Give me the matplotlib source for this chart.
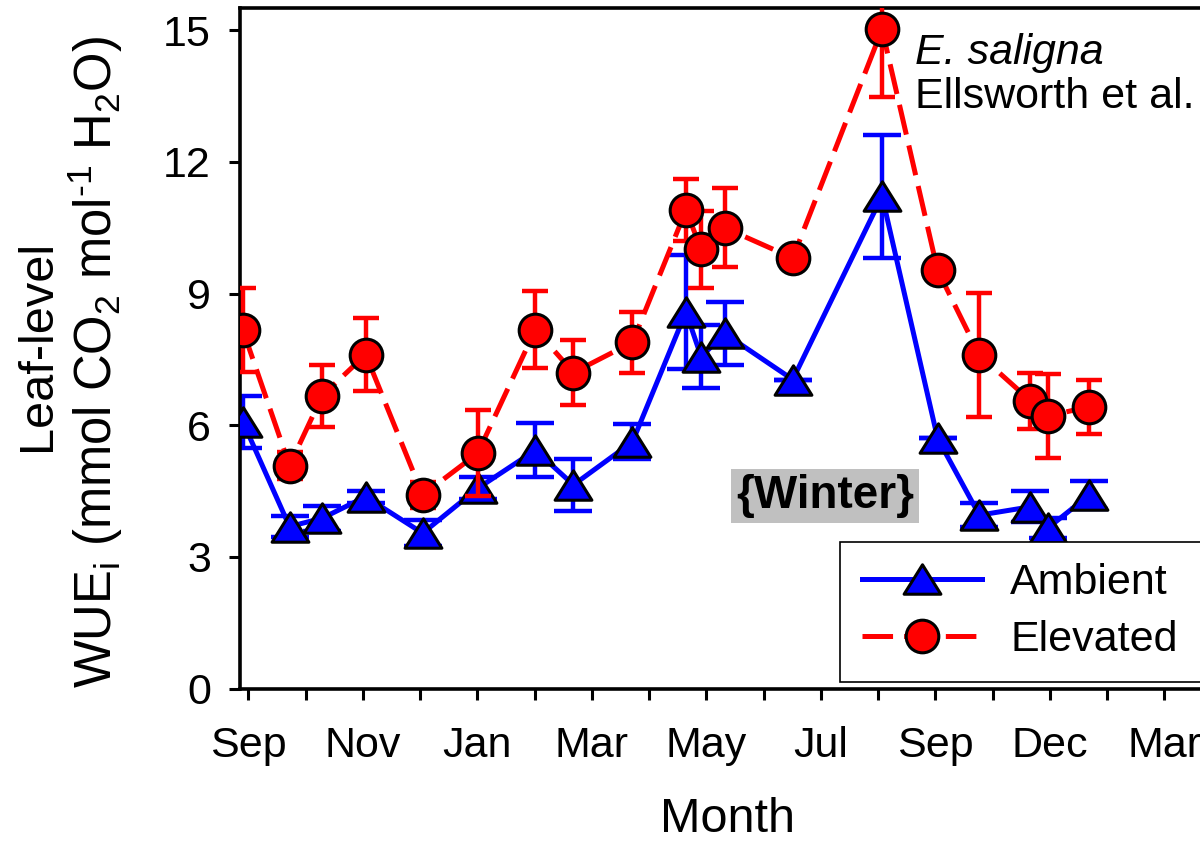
import matplotlib
matplotlib.use("Agg")
import matplotlib.pyplot as plt
from matplotlib.path import Path
import numpy as np

plt.rcParams['font.family'] = ['Liberation Sans', 'DejaVu Sans']
plt.rcParams['mathtext.fontset'] = 'custom'
plt.rcParams['mathtext.rm'] = 'Liberation Sans'
plt.rcParams['mathtext.it'] = 'Liberation Sans:italic'
plt.rcParams['lines.scale_dashes'] = False

# ---- data (x in month-tick units, Sep = 0) ----
month_pos = [-0.096, 0.72, 1.29, 2.05, 3.046, 4.007, 5.015, 5.68, 6.71, 7.645,
             7.91, 8.32, 9.51, 11.07, 12.04, 12.77, 13.66, 13.96, 14.69]
ambient = [6.08, 3.69, 3.88, 4.37, 3.54, 4.56, 5.43, 4.64, 5.62, 8.58,
           7.56, 8.09, 7.04, 11.22, 5.70, 3.95, 4.14, 3.65, 4.41]
ambient_se = [0.59, 0.24, 0.29, 0.14, 0.29, 0.25, 0.62, 0.60, 0.40, 1.30,
              0.72, 0.71, 0.0, 1.40, 0.0, 0.28, 0.35, 0.23, 0.31]
elevated = [8.17, 5.08, 6.67, 7.61, 4.41, 5.36, 8.18, 7.20, 7.89, 10.90,
            10.01, 10.50, 9.81, 15.02, 9.53, 7.60, 6.56, 6.21, 6.42]
elevated_se = [0.96, 0.30, 0.70, 0.84, 0.30, 0.98, 0.87, 0.75, 0.70, 0.70,
               0.88, 0.90, 0.0, 1.54, 0.0, 1.41, 0.64, 0.95, 0.62]
tick_pos = list(range(17))
tick_labels = ['Sep', '', 'Nov', '', 'Jan', '', 'Mar', '', 'May', '', 'Jul', '',
               'Sep', '', 'Dec', '', 'Mar']
y_ticks = [0, 3, 6, 9, 12, 15]

W, H = 1200, 841
fig = plt.figure(figsize=(W / 100, H / 100), dpi=100)
ax_left, ax_bottom = 240 / W, 1 - 688.5 / H
ax_height = (688.5 - 8.3) / H
xlim = (-0.145, 17.0)
ax_width = (xlim[1] - xlim[0]) * 57.25 / W
ax = fig.add_axes([ax_left, ax_bottom, ax_width, ax_height])

tri = Path([(0, 0.8), (-1, -0.8), (1, -0.8), (0, 0.8)],
           [Path.MOVETO, Path.LINETO, Path.LINETO, Path.CLOSEPOLY])

blue = '#0000FF'
red = '#FF0000'

# Ambient
ax.errorbar(month_pos, ambient, yerr=ambient_se, fmt='none', ecolor=blue,
            elinewidth=3.2, capsize=14, capthick=3.2, zorder=2)
ax.plot(month_pos, ambient, color=blue, lw=3.6, marker=tri, ms=26.5,
        mfc=blue, mec='black', mew=2.2, label='Ambient', zorder=3)
# Elevated
ax.errorbar(month_pos, elevated, yerr=elevated_se, fmt='none', ecolor=red,
            elinewidth=3.2, capsize=9.5, capthick=3.2, zorder=4)
ax.plot(month_pos, elevated, color=red, lw=3.6, dashes=(22, 8), marker='o',
        ms=23.5, mfc=red, mec='black', mew=2.2, label='Elevated', zorder=5)

ax.set_xlim(*xlim)
ax.set_ylim(0, 15.5)
ax.set_xticks(tick_pos)
ax.set_xticklabels(tick_labels)
ax.set_yticks(y_ticks)
ax.tick_params(axis='both', direction='out', length=8, width=2.2,
               labelsize=31, colors='black')
ax.tick_params(axis='x', pad=19)
ax.tick_params(axis='y', pad=13)
for s in ax.spines.values():
    s.set_linewidth(2.6)

fig.text(727 / W, 1 - 820 / H, 'Month', fontsize=35, ha='center', va='center')
fig.text(38 / W, 1 - 345 / H, 'Leaf-level', fontsize=35, rotation=90,
         ha='center', va='center')
fig.text(95 / W, 1 - 362 / H,
         'WUE$_\\mathregular{i}$ (mmol CO$_\\mathregular{2}$ mol$^\\mathregular{\u2010 1}$ H$_\\mathregular{2}$O)',
         fontsize=36.5, rotation=90, ha='center', va='center')

fig.text(915 / W, 1 - 53 / H, 'E. saligna', fontsize=31, style='italic',
         ha='left', va='center')
fig.text(915 / W, 1 - 97 / H, 'Ellsworth et al.', fontsize=31,
         ha='left', va='center')

fig.text(825 / W, 1 - 496 / H, '{Winter}', fontsize=33, fontweight='bold',
         ha='center', va='center',
         bbox=dict(boxstyle='square,pad=0.1', fc='#C0C0C0', ec='none'))

leg = ax.legend(loc='upper left', bbox_to_anchor=(840 / W, 1 - 541.7 / H - 0.01, 0.35, 0.01),
                bbox_transform=fig.transFigure, mode='expand', fontsize=31,
                frameon=True, fancybox=False, edgecolor='black', framealpha=1,
                borderpad=0.5, labelspacing=0.4, handlelength=2.8,
                handletextpad=0.65, numpoints=1, borderaxespad=0)
leg.get_frame().set_linewidth(1.2)

fig.savefig('out.png', dpi=100)
